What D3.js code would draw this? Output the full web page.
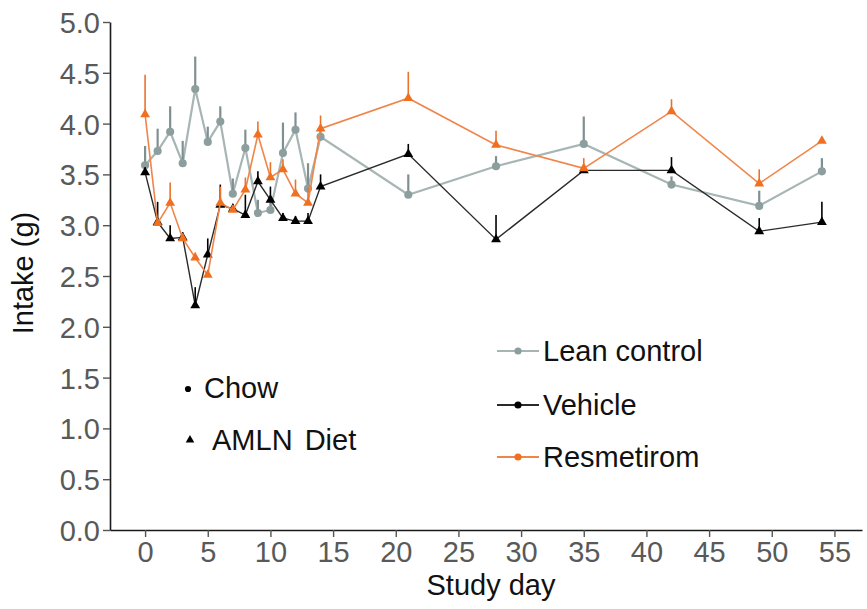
<!DOCTYPE html>
<html>
<head>
<meta charset="utf-8">
<script src="https://cdn.jsdelivr.net/npm/d3@7"></script>
<style>
  html, body { margin: 0; padding: 0; background: #fff; }
  svg { display: block; font-family: "Liberation Sans", Arial, sans-serif; }
</style>
</head>
<body>
<svg id="chart" width="867" height="609"></svg>
<script>
// Study days sampled
const days = [0, 1, 2, 3, 4, 5, 6, 7, 8, 9, 10, 11, 12, 13, 14, 21, 28, 35, 42, 49, 54];

// Mean food intake (g) per group, with upper error (SEM)
const leanMean = [3.59, 3.73, 3.92, 3.61, 4.34, 3.82, 4.02, 3.31, 3.76, 3.12, 3.15, 3.71, 3.94, 3.36, 3.87, 3.30, 3.58, 3.80, 3.40, 3.19, 3.53];
const leanErr  = [0.19, 0.22, 0.25, 0.22, 0.32, 0.15, 0.15, 0.15, 0.18, 0.13, 0.13, 0.30, 0.17, 0.25, 0.10, 0.20, 0.10, 0.27, 0.08, 0.15, 0.13];

const vehicleMean = [3.52, 3.03, 2.87, 2.88, 2.21, 2.71, 3.20, 3.16, 3.10, 3.43, 3.25, 3.07, 3.04, 3.04, 3.38, 3.70, 2.86, 3.54, 3.54, 2.94, 3.03];
const vehicleErr  = [0.05, 0.20, 0.13, 0.05, 0.18, 0.16, 0.20, 0.05, 0.20, 0.10, 0.13, 0.05, 0.05, 0.08, 0.12, 0.10, 0.24, 0.05, 0.13, 0.13, 0.20];

const resMean = [4.09, 3.02, 3.22, 2.87, 2.68, 2.51, 3.22, 3.15, 3.35, 3.89, 3.47, 3.55, 3.31, 3.22, 3.95, 4.25, 3.79, 3.56, 4.12, 3.41, 3.83];
const resErr  = [0.39, 0.05, 0.20, 0.05, 0.05, 0.05, 0.16, 0.05, 0.12, 0.13, 0.15, 0.10, 0.14, 0.15, 0.13, 0.26, 0.14, 0.10, 0.12, 0.14, 0.03];

const xTicks = [0, 5, 10, 15, 20, 25, 30, 35, 40, 45, 50, 55];
const yTicks = [0, 0.5, 1.0, 1.5, 2.0, 2.5, 3.0, 3.5, 4.0, 4.5, 5.0];

const groupNames = ["Lean control", "Vehicle", "Resmetirom"];
const dietNames = ["Chow", "AMLN Diet"];

const groups = [
  { name: groupNames[0], mean: leanMean, err: leanErr, symbol: d3.symbolCircle, size: 52,
    fill: "#8c9e9e", line: "#a7b5b5", lineWidth: 2.2, errColor: "#7f9090", errWidth: 2.2 },
  { name: groupNames[1], mean: vehicleMean, err: vehicleErr, symbol: d3.symbolTriangle, size: 42,
    fill: "#000000", line: "#2a2a2a", lineWidth: 1.4, errColor: "#000000", errWidth: 1.6 },
  { name: groupNames[2], mean: resMean, err: resErr, symbol: d3.symbolTriangle, size: 42,
    fill: "#f07020", line: "#f0854a", lineWidth: 1.6, errColor: "#e8732c", errWidth: 1.6 }
];

const svg = d3.select("#chart");
const FONT = 29;

const x = d3.scaleLinear().domain([-2.8, 57.2]).range([110, 862]);
const y = d3.scaleLinear().domain([0, 5]).range([530, 22]);

// Axes
const xAxis = svg.append("g")
  .attr("transform", `translate(0,${y(0)})`)
  .call(d3.axisBottom(x).tickValues(xTicks).tickSize(7).tickSizeOuter(0).tickPadding(4).tickFormat(d3.format("d")));
const yAxis = svg.append("g")
  .attr("transform", `translate(${x.range()[0]},0)`)
  .call(d3.axisLeft(y).tickValues(yTicks).tickSize(7).tickSizeOuter(0).tickPadding(3).tickFormat(d3.format(".1f")));

[xAxis, yAxis].forEach(g => {
  g.select(".domain").attr("stroke", "#1a1a1a").attr("stroke-width", 1.6);
  g.selectAll(".tick line").attr("stroke", "#555").attr("stroke-width", 1.4);
  g.selectAll(".tick text")
    .attr("fill", "#595959")
    .style("font-size", FONT + "px")
    .style("font-family", "'Liberation Sans', Arial, sans-serif");
});
yAxis.selectAll(".tick text").attr("dy", "0.36em");
xAxis.selectAll(".tick text").attr("dy", "0.72em");

// Axis titles
svg.append("text")
  .attr("x", 491).attr("y", 595)
  .attr("text-anchor", "middle")
  .attr("fill", "#111")
  .style("font-size", FONT + "px")
  .text("Study day");
svg.append("text")
  .attr("transform", `translate(33,${273}) rotate(-90)`)
  .attr("text-anchor", "middle")
  .attr("fill", "#111")
  .style("font-size", FONT + "px")
  .text("Intake (g)");

// Series: line, upward error bars, markers
const lineGen = d3.line().x((d, i) => x(days[i])).y(d => y(d));

groups.forEach(gr => {
  const g = svg.append("g");
  g.append("path")
    .datum(gr.mean)
    .attr("d", lineGen)
    .attr("fill", "none")
    .attr("stroke", gr.line)
    .attr("stroke-width", gr.lineWidth);
  g.selectAll("line.err")
    .data(gr.mean)
    .join("line")
    .attr("class", "err")
    .attr("x1", (d, i) => x(days[i])).attr("x2", (d, i) => x(days[i]))
    .attr("y1", d => y(d))
    .attr("y2", (d, i) => y(d + gr.err[i]))
    .attr("stroke", gr.errColor)
    .attr("stroke-width", gr.errWidth);
  g.selectAll("path.pt")
    .data(gr.mean)
    .join("path")
    .attr("class", "pt")
    .attr("transform", (d, i) => `translate(${x(days[i])},${y(d)})`)
    .attr("d", d3.symbol().type(gr.symbol).size(gr.size))
    .attr("fill", gr.fill);
});

// Group legend
const legendY = [351, 405, 457];
groups.forEach((gr, i) => {
  const lg = svg.append("g").attr("transform", `translate(497,${legendY[i]})`);
  lg.append("line").attr("x1", 0).attr("x2", 42).attr("y1", 0).attr("y2", 0)
    .attr("stroke", gr.line).attr("stroke-width", 2);
  lg.append("path").attr("transform", "translate(21,0)")
    .attr("d", d3.symbol().type(d3.symbolCircle).size(40))
    .attr("fill", gr.fill);
  lg.append("text").attr("x", 46).attr("y", 0).attr("dy", "0.36em")
    .attr("fill", "#111")
    .style("font-size", FONT + "px")
    .text(gr.name);
});

// Diet legend (marker shape)
const dietSymbols = [d3.symbolCircle, d3.symbolTriangle];
const dietSizes = [30, 32];
const dietY = [388, 440];
const dietX = [188, 190];
const dietTextX = [204, 212];
const dietMarkDy = [1, 0];
dietNames.forEach((name, i) => {
  svg.append("path")
    .attr("transform", `translate(${dietX[i]},${dietY[i] + dietMarkDy[i]})`)
    .attr("d", d3.symbol().type(dietSymbols[i]).size(dietSizes[i]))
    .attr("fill", "#000");
  svg.append("text")
    .attr("x", dietTextX[i]).attr("y", dietY[i]).attr("dy", "0.36em")
    .attr("fill", "#111")
    .style("font-size", FONT + "px")
    .style("word-spacing", i === 1 ? "4px" : "0px")
    .text(name);
});
</script>
</body>
</html>
